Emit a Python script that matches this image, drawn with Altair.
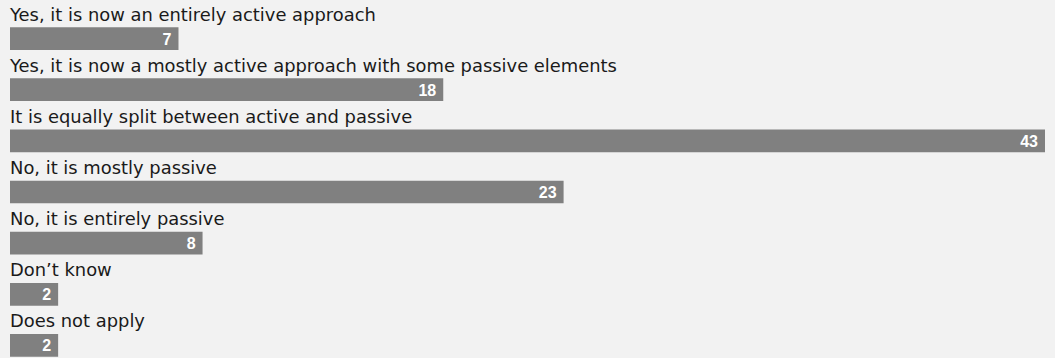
import altair as alt
import pandas as pd

categories = [
    "Yes, it is now an entirely active approach",
    "Yes, it is now a mostly active approach with some passive elements",
    "It is equally split between active and passive",
    "No, it is mostly passive",
    "No, it is entirely passive",
    "Don\u2019t know",
    "Does not apply",
]
values = [7, 18, 43, 23, 8, 2, 2]

df = pd.DataFrame({"cat": categories, "val": values})

y = alt.Y("cat:N", sort=None, axis=None,
          scale=alt.Scale(paddingInner=0, paddingOuter=0))
xs = alt.Scale(domain=[0, 43], range=[10, 1045], nice=False, zero=True)

base = alt.Chart(df)

bars = base.mark_bar(color="#808080", height=22.7, yOffset=13).encode(
    x=alt.X("val:Q", scale=xs, axis=None),
    x2=alt.datum(0),
    y=y,
)

labels = base.mark_text(align="left", baseline="alphabetic", dy=-5,
                        font="DejaVu Sans", fontSize=17.9, color="#1a1a1a").encode(
    x=alt.value(10),
    y=y,
    text="cat:N",
)

vals = base.mark_text(align="right", baseline="middle", dx=-7, yOffset=14,
                      font="Liberation Sans", fontSize=16, fontWeight="bold",
                      color="white").encode(
    x=alt.X("val:Q", scale=xs, axis=None),
    y=y,
    text="val:Q",
)

chart = alt.layer(bars, labels, vals).properties(
    width=1055, height=358, padding=0, autosize="none",
    background="#f2f2f2",
).configure_view(stroke=None)

chart.save("out.html", embed_options={"renderer": "svg", "actions": False})
